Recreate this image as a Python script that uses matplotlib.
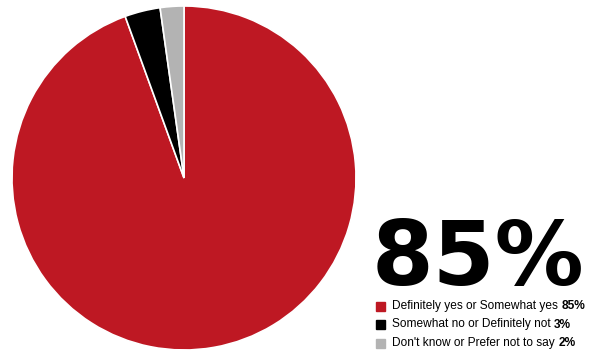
import matplotlib
matplotlib.use("Agg")
import matplotlib.pyplot as plt

labels = ["Definitely yes or Somewhat yes", "Somewhat no or Definitely not", "Don't know or Prefer not to say"]
values = [85, 3, 2]
colors = ["#BE1823", "#000000", "#B3B3B3"]
headline = "85%"

plt.rcParams['font.family'] = ['Liberation Sans', 'DejaVu Sans']

fig = plt.figure(figsize=(5.92, 3.51), dpi=100)
ax = fig.add_axes([12/592, 1/351, 344/592, 344/351])
ax.pie(values, colors=colors, startangle=90, counterclock=False,
       wedgeprops=dict(edgecolor="white", linewidth=1.2))
ax.set_xlim(-1, 1)
ax.set_ylim(-1, 1)
ax.set_aspect("equal")

# big number
fig.text(372/592, 1 - 285/351, headline, fontsize=64, fontweight="bold",
         family="DejaVu Sans", ha="left", va="baseline", color="black")

# legend rows: square, label, bold value
renderer = fig.canvas.get_renderer()
y0 = 306
for i, (lab, v, c) in enumerate(zip(labels, values, colors)):
    yc = y0 + i * 18.5
    fig.patches.append(plt.Rectangle((376/592, 1 - (yc + 4.5)/351), 9/592, 9/351,
                                     transform=fig.transFigure, color=c, figure=fig))
    t = fig.text(392/592, 1 - yc/351, lab, fontsize=8.6, ha="left", va="center")
    bb = t.get_window_extent(renderer)
    fig.text((bb.x1 + 3.5)/592, 1 - yc/351, f"{v}%", fontsize=8.6, fontweight="bold",
             ha="left", va="center")

fig.savefig("out.png", dpi=100)
